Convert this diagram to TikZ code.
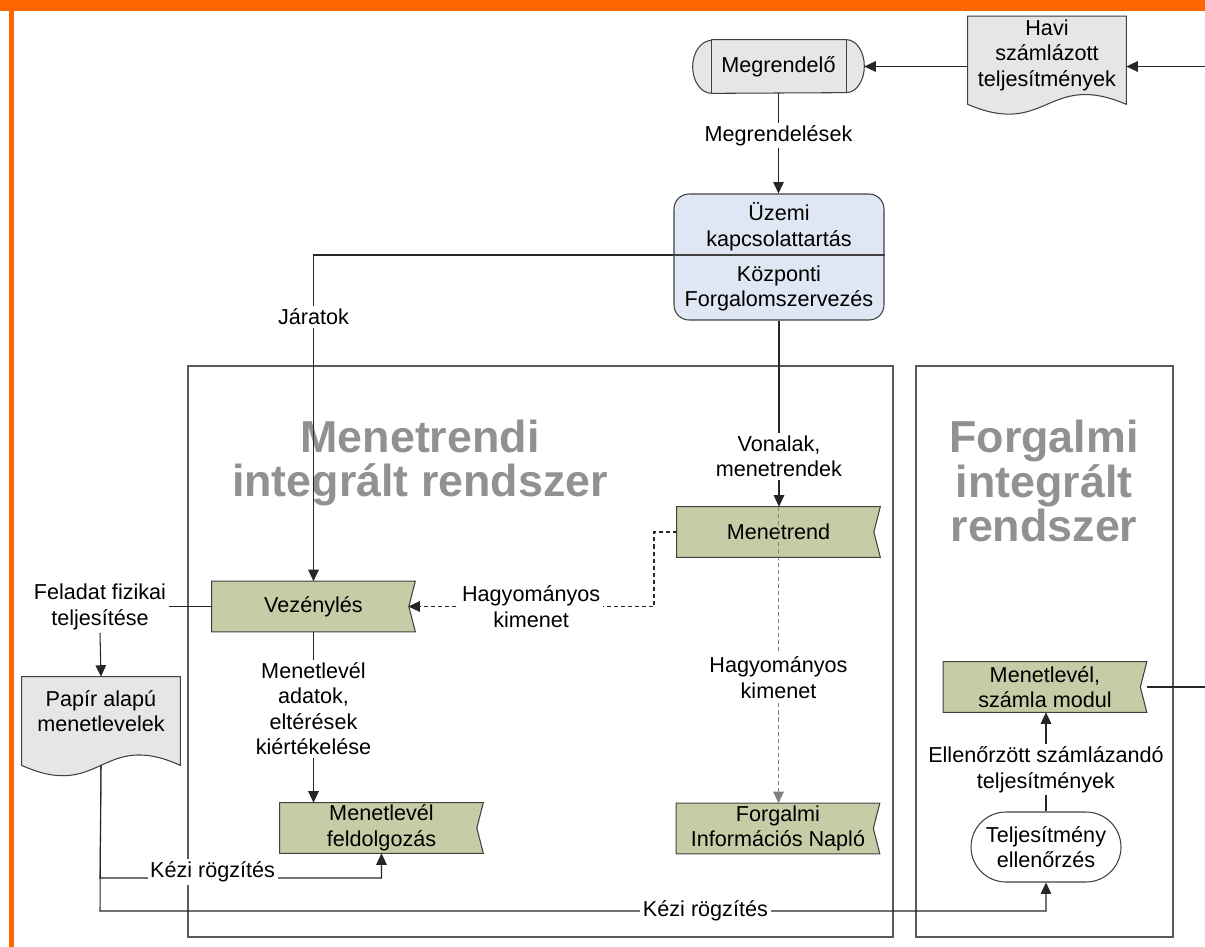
\documentclass[tikz,border=0pt]{standalone}
\usepackage{fontspec}
\setmainfont{Liberation Sans}
\usetikzlibrary{arrows.meta,backgrounds,shapes.misc,calc}
\definecolor{frameorange}{RGB}{255,102,0}
\definecolor{docgray}{RGB}{230,230,230}
\definecolor{olivefill}{RGB}{196,205,166}
\definecolor{paleblue}{RGB}{222,231,243}
\definecolor{edgecol}{RGB}{64,64,64}
\definecolor{titlegray}{RGB}{145,145,145}
\definecolor{boxline}{RGB}{90,90,90}
\begin{document}
\begin{tikzpicture}[x=0.02cm,y=-0.02cm,
  every node/.style={font=\fontsize{12.3}{14.5}\selectfont, align=center},
  flagbox/.style={inner sep=0pt, minimum width=4.06cm, minimum height=1cm},
  flagshape/.style={draw=edgecol, fill=olivefill, line width=0.6pt},
  grayshape/.style={draw=edgecol, fill=docgray, line width=0.6pt},
  lbl/.style={fill=white, inner sep=1.5pt},
  conn/.style={draw=black!85, line width=0.6pt},
  arr/.style={conn, -{Triangle[length=6.5pt,width=6pt]}},
  dashconn/.style={arr, dash pattern=on 2.3pt off 1.7pt},
  dashgray/.style={arr, draw=black!50, dash pattern=on 2.3pt off 1.7pt},
  title/.style={font=\fontsize{25.5}{25.6}\selectfont\bfseries, text=titlegray, inner sep=0pt},
  area/.style={draw=boxline, line width=0.6pt}]

\useasboundingbox (0,0) rectangle (1205,947);

% orange page frame
\fill[frameorange] (0,0) rectangle (1205,11);
\fill[frameorange] (9,0) rectangle (14,947);

% system areas
\draw[area] (188,366) rectangle (893,937);
\draw[area] (916,366) rectangle (1173,937);
\node[title] (t1) at (420,463) {Menetrendi\\integrált rendszer};
\node[title] (t2) at (1044,481) {Forgalmi\\integrált\\rendszer};

% nodes
\node[inner sep=0pt, minimum width=3.42cm, minimum height=1.06cm] (meg) at (778.5,66.5) {Megrendelő};
\node[inner sep=0pt, minimum width=3.16cm, minimum height=1.54cm] (havi) at (1047,55) {Havi\\számlázott\\teljesítmények};
\node[draw=edgecol, fill=paleblue, rounded corners=0.3cm, line width=0.6pt,
      minimum width=4.2cm, minimum height=2.52cm, inner sep=0pt] (uzemi) at (779,257)
      {Üzemi\\kapcsolattartás\\[5.4pt]Központi\\Forgalomszervezés};
\node[flagbox] (mtrend) at (778.5,532) {Menetrend};
\node[flagbox] (vez) at (313.5,606.5) {Vezénylés};
\node[flagbox] (mfeld) at (381.5,828) {Menetlevél\\feldolgozás};
\node[flagbox] (naplo) at (778,828.5) {Forgalmi\\Információs Napló};
\node[flagbox] (szmod) at (1045,687) {Menetlevél,\\számla modul};
\node[draw=edgecol, fill=white, rounded rectangle, line width=0.6pt,
      minimum width=3cm, minimum height=1.4cm, inner sep=0pt] (telj) at (1046,847) {Teljesítmény\\ellenőrzés};
\node[inner sep=0pt, minimum width=3.16cm, minimum height=1.36cm] (papir) at (101,711) {Papír alapú\\menetlevelek};
\node[lbl] (fel) at (100,607) {Feladat fizikai\\teljesítése};

\coordinate (hb) at ([yshift=-0.21cm]havi.south);
\coordinate (pb) at ([yshift=-0.4cm]papir.south);
\coordinate (inR) at (1205,66.5);
\coordinate (outR) at (1205,687);
\coordinate (div) at (779,255);
\coordinate (dk) at (654,532);
\coordinate (k1) at (100,878);
\coordinate (k2) at (100,911);

% shape outlines behind the texts
\begin{scope}[on background layer]
  \filldraw[grayshape] ([xshift=0.38cm]meg.north west) -- ([xshift=-0.36cm]meg.north east)
    arc[start angle=90, end angle=-90, x radius=0.36cm, y radius=0.53cm]
    -- ([xshift=0.38cm]meg.south west)
    arc[start angle=270, end angle=90, x radius=0.38cm, y radius=0.53cm] -- cycle;
  \draw[line width=0.6pt, draw=edgecol] ([xshift=0.38cm]meg.north west) -- ([xshift=0.38cm]meg.south west);
  \draw[line width=0.6pt, draw=edgecol] ([xshift=-0.36cm]meg.north east) -- ([xshift=-0.36cm]meg.south east);
  \filldraw[grayshape] (havi.north west) -- (havi.north east) -- (hb -| havi.east)
    .. controls ([yshift=0.68cm]hb) and ([yshift=-0.68cm]hb) .. (hb -| havi.west) -- cycle;
  \filldraw[grayshape] (papir.north west) -- (papir.north east) -- (pb -| papir.east)
    .. controls ([yshift=0.72cm]pb) and ([yshift=-0.72cm]pb) .. (pb -| papir.west) -- cycle;
  \foreach \n in {mtrend,vez,mfeld,naplo,szmod}
    \filldraw[flagshape] (\n.north west) -- (\n.north east) -- ([xshift=-0.13cm]\n.east)
      -- (\n.south east) -- (\n.south west) -- cycle;
\end{scope}
\draw[line width=0.6pt, draw=edgecol] (div -| uzemi.west) -- (div -| uzemi.east);

% connectors
\draw[arr] (inR) -- (inR -| havi.east);
\draw[arr] (meg.east -| havi.west) -- (meg.east);
\draw[arr] (meg.south) -- node[lbl,pos=0.42]{Megrendelések} (meg.south |- uzemi.north);
\draw[arr] (div -| uzemi.west) -- (vez.north |- div) -- node[lbl,pos=0.19]{Járatok} (vez.north);
\draw[arr] (uzemi.south) -- node[lbl,pos=0.73]{Vonalak,\\menetrendek} (uzemi.south |- mtrend.north);
\draw[dashconn] (mtrend.west) -- (dk) -- (dk |- vez.east) -- node[lbl,pos=0.5]{Hagyományos\\kimenet} ([xshift=-0.14cm]vez.east);
\draw[dashgray] (mtrend.north) -- node[lbl,pos=0.576]{Hagyományos\\kimenet} (mtrend.north |- naplo.north);
\draw[conn] (vez.west) -- (vez.west -| fel.east);
\draw[arr] (fel.south) -- (papir.north);
\draw[arr] (vez.south) -- node[lbl,pos=0.45]{Menetlevél\\adatok,\\eltérések\\kiértékelése} (vez.south |- mfeld.north);
\draw[arr] (pb) -- (k1) -- node[lbl,pos=0.4,yshift=3.5pt]{Kézi rögzítés} (k1 -| mfeld.south) -- (mfeld.south);
\draw[arr] (pb) -- (k2) -- node[lbl,pos=0.64]{Kézi rögzítés} (k2 -| telj.south) -- (telj.south);
\draw[arr] (telj.north) -- node[lbl,pos=0.42]{Ellenőrzött számlázandó\\teljesítmények} (telj.north |- szmod.south);
\draw[conn] (szmod.east) -- (outR);
\end{tikzpicture}
\end{document}
